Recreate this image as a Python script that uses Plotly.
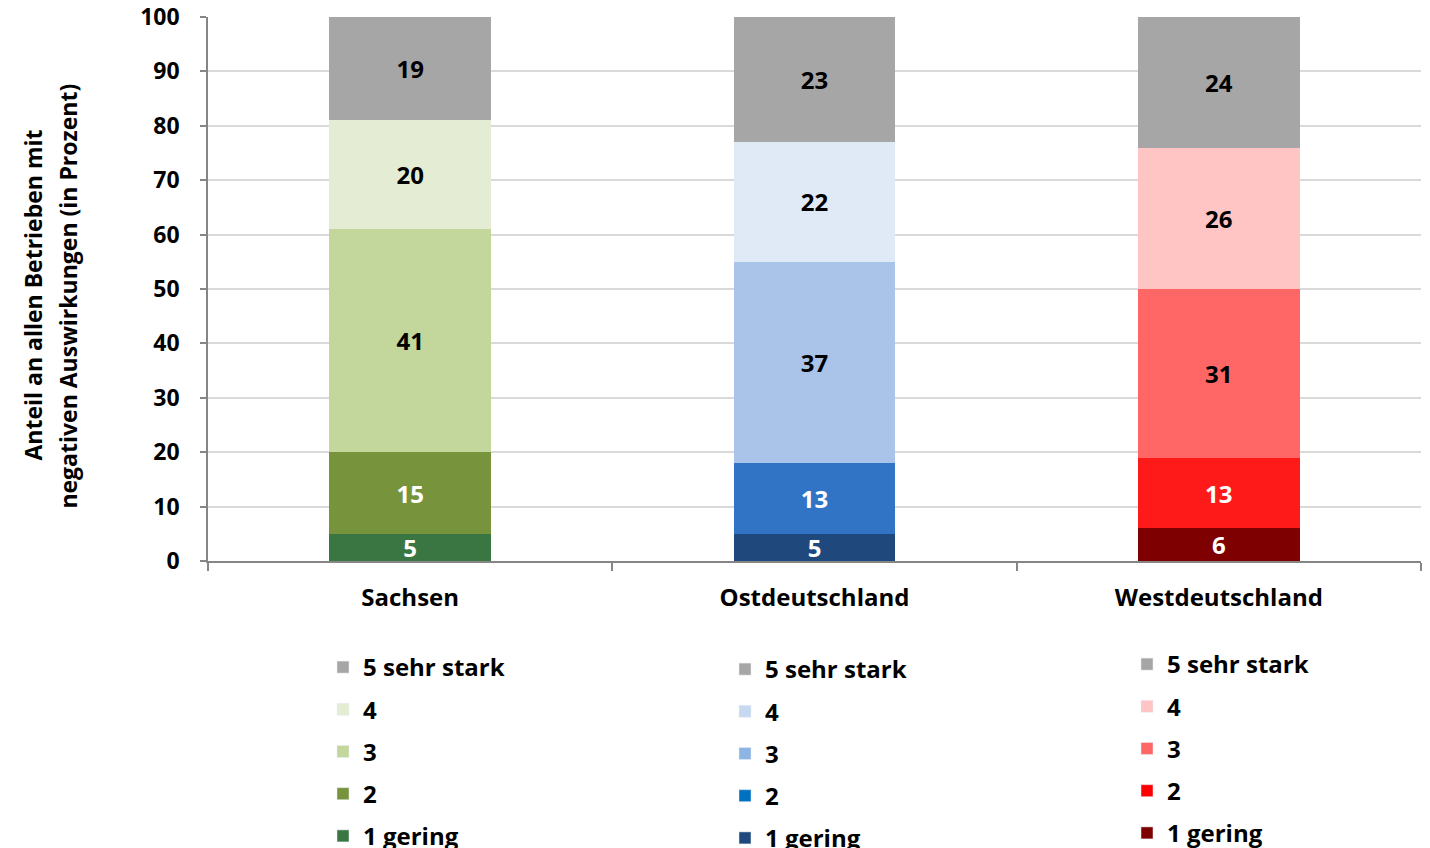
import plotly.graph_objects as go

categories = ["Sachsen", "Ostdeutschland", "Westdeutschland"]
levels = ["1 gering", "2", "3", "4", "5 sehr stark"]

# values per category, ordered level 1..5
sachsen = [5, 15, 41, 20, 19]
ost = [5, 13, 37, 22, 23]
west = [6, 13, 31, 26, 24]
values = [sachsen, ost, west]

bar_colors = [
    ["#3A7641", "#77933C", "#C3D69B", "#E4EDD4", "#A6A6A6"],
    ["#1F497D", "#3174C5", "#A9C4E8", "#E0EAF6", "#A6A6A6"],
    ["#7F0000", "#FF1A1A", "#FF6666", "#FFC5C5", "#A6A6A6"],
]
legend_colors = [
    ["#3A7641", "#77933C", "#C3D69B", "#E4EDD4", "#A6A6A6"],
    ["#1F497D", "#0070C0", "#8DB4E2", "#C6D9F1", "#A6A6A6"],
    ["#7F0000", "#FF0000", "#FF6666", "#FFC5C5", "#A6A6A6"],
]
text_colors = ["white", "white", "black", "black", "black"]
title_lines = ["Anteil an allen Betrieben mit", "negativen Auswirkungen (in Prozent)"]

FONT = "Open Sans"
fig = go.Figure()

legend_names = ["legend", "legend2", "legend3"]

# stacked bars
for ci, cat in enumerate(categories):
    for li, lev in enumerate(levels):
        v = values[ci][li]
        fig.add_trace(go.Bar(
            x=[cat], y=[v], text=[str(v)],
            marker=dict(color=bar_colors[ci][li], line=dict(width=0)),
            textposition="inside", insidetextanchor="middle", textangle=0,
            textfont=dict(family=FONT, size=24, color=text_colors[li], weight="bold"),
            showlegend=False, hoverinfo="skip",
        ))

# legend proxies (5 on top)
for ci, cat in enumerate(categories):
    for li in range(4, -1, -1):
        fig.add_trace(go.Bar(
            x=[cat], y=[None], name=levels[li],
            marker=dict(color=legend_colors[ci][li]),
            legend=legend_names[ci], legendgroup=f"{ci}-{li}",
            showlegend=True, hoverinfo="skip",
        ))

legend_common = dict(
    xref="container", yref="container", xanchor="left", yanchor="top",
    font=dict(family=FONT, size=24, color="black", weight="bold"),
    traceorder="grouped", tracegroupgap=8, bgcolor="rgba(0,0,0,0)",
    itemclick=False, itemdoubleclick=False,
)
leg_x = [323, 725, 1127]
leg_top = [645, 647, 642]

W, H = 1430, 848
PW = 1213
fig.update_layout(
    width=W, height=H,
    barmode="stack", bargap=0.6,
    plot_bgcolor="white", paper_bgcolor="white",
    margin=dict(l=208, r=9, t=17, b=287, autoexpand=False),
    uniformtext=dict(minsize=24, mode="show"),
    font=dict(family=FONT, color="black"),
    legend=dict(legend_common, x=leg_x[0] / W, y=1 - leg_top[0] / H),
    legend2=dict(legend_common, x=leg_x[1] / W, y=1 - leg_top[1] / H),
    legend3=dict(legend_common, x=leg_x[2] / W, y=1 - leg_top[2] / H),
    annotations=[
        dict(text=title_lines[0], xref="paper", yref="paper",
             x=(33 - 208) / PW, y=0.488, xanchor="center", yanchor="middle",
             textangle=-90, showarrow=False,
             font=dict(family=FONT, size=23, color="black", weight="bold")),
        dict(text=title_lines[1], xref="paper", yref="paper",
             x=(68 - 208) / PW, y=0.486, xanchor="center", yanchor="middle",
             textangle=-90, showarrow=False,
             font=dict(family=FONT, size=23, color="black", weight="bold")),
    ],
)
fig.update_yaxes(
    range=[0, 100], dtick=10, showgrid=True, gridcolor="#D9D9D9", gridwidth=1.5,
    showline=True, linecolor="#868686", linewidth=1.5,
    ticks="outside", ticklen=6, tickcolor="#868686", tickwidth=1.5,
    ticklabelstandoff=16,
    tickfont=dict(family=FONT, size=23, color="black", weight="bold"),
    zeroline=False, fixedrange=True,
)
fig.update_xaxes(
    showgrid=False, showline=True, linecolor="#868686", linewidth=1.5,
    ticks="outside", tickson="boundaries", ticklen=8, tickcolor="#868686", tickwidth=1.5,
    ticklabelstandoff=14,
    tickfont=dict(family=FONT, size=24, color="black", weight="bold"),
    fixedrange=True,
)

fig.write_html("out.html")
